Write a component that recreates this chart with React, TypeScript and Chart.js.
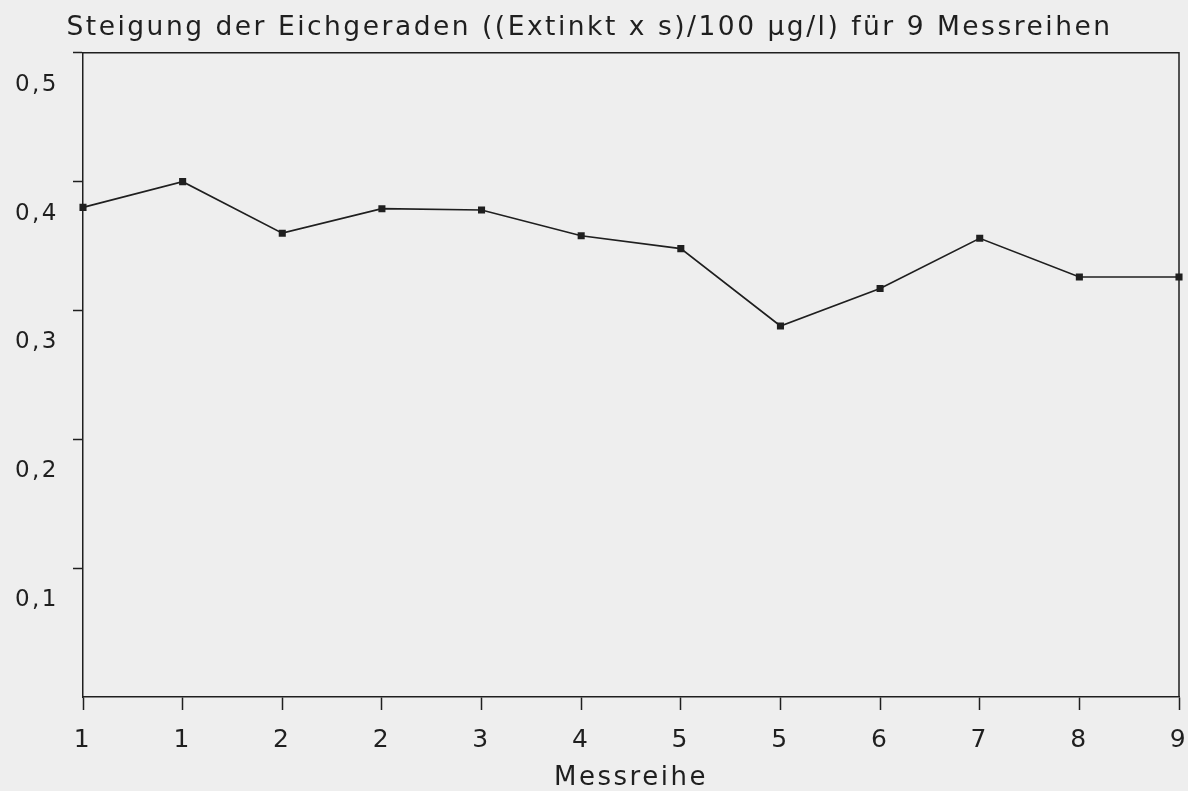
import React, { useEffect, useRef } from 'react';
import { Chart, registerables } from 'chart.js';

Chart.register(...registerables);

// ---- data ----
const categories = ['1', '1', '2', '2', '3', '4', '5', '5', '6', '7', '8', '9'];
const slopeValues = [0.38, 0.40, 0.36, 0.379, 0.378, 0.358, 0.348, 0.288, 0.317, 0.356, 0.326, 0.326];
const yTickValues = [0, 0.1, 0.2, 0.3, 0.4, 0.5];
const titleText = 'Steigung der Eichgeraden ((Extinkt x s)/100 µg/l) für 9 Messreihen';
const xAxisTitle = 'Messreihe';

const INK = '#1f1f1f';
const FONT = 'DejaVu Sans';
const LETTER_SPACING = '2.5px';

const letterSpacingPlugin = {
  id: 'letterSpacing',
  beforeLayout(chart: any) {
    (chart.ctx as any).letterSpacing = LETTER_SPACING;
  },
  beforeDraw(chart: any) {
    (chart.ctx as any).letterSpacing = LETTER_SPACING;
  },
};

const frameBoxPlugin = {
  id: 'frameBox',
  beforeDatasetsDraw(chart: any) {
    const { ctx, chartArea } = chart;
    ctx.save();
    ctx.strokeStyle = INK;
    ctx.lineWidth = 1.5;
    ctx.beginPath();
    ctx.moveTo(chartArea.left, chartArea.top);
    ctx.lineTo(chartArea.right, chartArea.top);
    ctx.lineTo(chartArea.right, chartArea.bottom);
    ctx.stroke();
    ctx.restore();
  },
};

export default function App() {
  const canvasRef = useRef<HTMLCanvasElement | null>(null);

  useEffect(() => {
    const canvas = canvasRef.current;
    if (!canvas) return;
    const chart = new Chart(canvas, {
      type: 'line',
      data: {
        labels: categories,
        datasets: [
          {
            data: slopeValues,
            borderColor: INK,
            borderWidth: 1.7,
            backgroundColor: INK,
            pointStyle: 'rect',
            pointRadius: 5,
            pointBorderWidth: 0,
            pointBackgroundColor: INK,
            tension: 0,
            fill: false,
          },
        ],
      },
      options: {
        animation: false,
        responsive: false,
        layout: { padding: { left: 0, right: 9, top: 0, bottom: 0 } },
        plugins: {
          legend: { display: false },
          tooltip: { enabled: false },
          title: {
            display: true,
            text: titleText,
            color: INK,
            font: { family: FONT, size: 26.5, weight: 'normal', lineHeight: 1.2 },
            padding: { top: 12, bottom: 9 },
          },
        },
        scales: {
          x: {
            type: 'category',
            offset: false,
            afterFit(scale: any) {
              scale.height = 94;
              scale.paddingLeft = 0;
              scale.paddingRight = 0;
            },
            grid: {
              drawOnChartArea: false,
              drawTicks: true,
              tickLength: 13,
              tickWidth: 1.5,
              tickColor: INK,
              color: INK,
            },
            border: { display: true, color: INK, width: 1.5 },
            ticks: {
              color: INK,
              padding: 15,
              maxRotation: 0,
              autoSkip: false,
              font: { family: FONT, size: 25 },
            },
            title: {
              display: true,
              text: xAxisTitle,
              color: INK,
              font: { family: FONT, size: 26, lineHeight: 1 },
              padding: { top: 0, bottom: 0 },
            },
          },
          y: {
            type: 'linear',
            min: 0,
            max: 0.5,
            afterFit(scale: any) {
              scale.width = 83;
            },
            afterBuildTicks(scale: any) {
              scale.ticks = yTickValues.map((v) => ({ value: v }));
            },
            grid: {
              drawOnChartArea: false,
              drawTicks: true,
              tickLength: 10,
              tickWidth: 1.5,
              color: INK,
              tickColor: (ctx: any) =>
                ctx.tick && ctx.tick.value === 0 ? 'rgba(0,0,0,0)' : INK,
            },
            border: { display: true, color: INK, width: 1.5 },
            ticks: {
              color: INK,
              padding: 14,
              labelOffset: 32,
              font: { family: FONT, size: 23 },
              callback: (value: any) =>
                Number(value) === 0 ? '' : Number(value).toFixed(1).replace('.', ','),
            },
          },
        },
      },
      plugins: [letterSpacingPlugin, frameBoxPlugin],
    });
    return () => {
      chart.destroy();
    };
  }, []);

  return (
    <div
      style={{
        position: 'absolute',
        left: 0,
        top: 0,
        width: 1188,
        height: 791,
        background: '#eeeeee',
        overflow: 'hidden',
      }}
    >
      <canvas ref={canvasRef} width={1188} height={791} style={{ display: 'block' }} />
    </div>
  );
}
